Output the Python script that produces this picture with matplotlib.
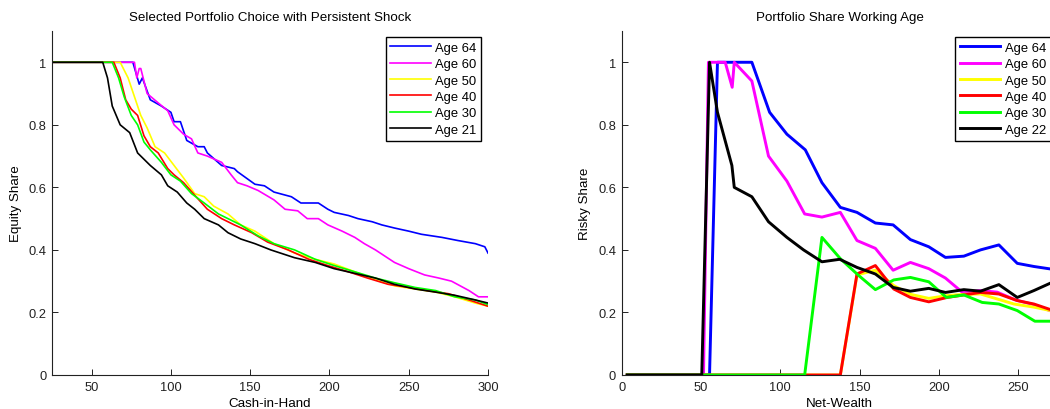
import numpy as np
import matplotlib
matplotlib.use("Agg")
import matplotlib.pyplot as plt

plt.rcParams['font.family'] = ['Liberation Sans', 'DejaVu Sans']

# left panel: equity share vs cash-in-hand
labels_left = ['Age 64', 'Age 60', 'Age 50', 'Age 40', 'Age 30', 'Age 21']
x64 = [25, 76, 80, 82, 87, 94, 100, 102, 106, 110, 117, 121, 123, 132, 140, 142, 153, 159, 165, 176,
       182, 193, 199, 203, 212, 218, 227, 233, 241, 250, 258, 271, 281, 292, 298, 300]
y64 = [1, 1, 0.93, 0.95, 0.88, 0.86, 0.84, 0.81, 0.81, 0.75, 0.73, 0.73, 0.71, 0.67, 0.66, 0.65, 0.61, 0.605,
       0.585, 0.57, 0.55, 0.55, 0.53, 0.52, 0.51, 0.50, 0.49, 0.48, 0.47, 0.46, 0.45, 0.44, 0.43, 0.42, 0.41, 0.39]
x60 = [25, 77, 78.5, 80, 81, 85, 92, 98, 102, 108, 113, 117, 123, 132, 138, 142, 148, 155, 165, 172, 180,
       186, 193, 199, 208, 216, 222, 229, 235, 241, 250, 260, 269, 277, 288, 294, 300]
y60 = [1, 1, 0.95, 0.98, 0.98, 0.90, 0.87, 0.845, 0.80, 0.77, 0.755, 0.71, 0.70, 0.68, 0.64, 0.615, 0.605,
       0.59, 0.56, 0.53, 0.525, 0.50, 0.50, 0.48, 0.46, 0.44, 0.42, 0.40, 0.38, 0.36, 0.34, 0.32, 0.31, 0.30,
       0.27, 0.25, 0.25]
x50 = [25, 68, 73, 77, 81, 85, 90, 96, 102, 108, 115, 121, 127, 136, 144, 153, 165, 178, 191, 203, 216,
       229, 241, 254, 267, 279, 292, 300]
y50 = [1, 1, 0.95, 0.89, 0.83, 0.79, 0.73, 0.71, 0.67, 0.63, 0.58, 0.57, 0.54, 0.515, 0.48, 0.46, 0.42,
       0.39, 0.37, 0.355, 0.33, 0.305, 0.285, 0.275, 0.265, 0.25, 0.23, 0.22]
x40 = [25, 64, 68, 71.5, 75, 79, 83, 87, 92, 98, 102, 108, 115, 123, 132, 140, 151, 161, 174, 187, 199,
       212, 224, 237, 250, 262, 275, 288, 300]
y40 = [1, 1, 0.95, 0.88, 0.85, 0.83, 0.765, 0.73, 0.71, 0.66, 0.64, 0.615, 0.575, 0.53, 0.50, 0.48, 0.455,
       0.425, 0.40, 0.37, 0.35, 0.33, 0.31, 0.29, 0.28, 0.27, 0.26, 0.24, 0.22]
x30 = [25, 63, 67, 70.5, 75, 79, 83, 87, 94, 100, 106, 113, 121, 130, 138, 144, 155, 165, 178, 191, 203,
       216, 229, 241, 254, 267, 279, 292, 300]
y30 = [1, 1, 0.95, 0.89, 0.83, 0.80, 0.745, 0.72, 0.68, 0.64, 0.62, 0.58, 0.55, 0.515, 0.495, 0.48, 0.445,
       0.42, 0.40, 0.37, 0.35, 0.33, 0.31, 0.295, 0.28, 0.27, 0.25, 0.24, 0.225]
x21 = [25, 57, 60, 63, 68, 74, 79, 83, 87, 94, 98, 104, 110, 115, 121, 130, 136, 144, 153, 163, 178, 191,
       203, 216, 229, 241, 254, 267, 279, 292, 300]
y21 = [1, 1, 0.95, 0.86, 0.80, 0.775, 0.71, 0.69, 0.67, 0.64, 0.605, 0.585, 0.55, 0.53, 0.50, 0.48, 0.455,
       0.435, 0.42, 0.40, 0.375, 0.36, 0.34, 0.325, 0.31, 0.29, 0.275, 0.265, 0.255, 0.24, 0.23]

# right panel: risky share vs net wealth
labels_right = ['Age 64', 'Age 60', 'Age 50', 'Age 40', 'Age 30', 'Age 22']
w64 = [3.5, 55.4, 60.4, 82.1, 93.3, 104.2, 115.8, 126.3, 137.9, 148.4, 160, 171.2, 182.1, 193.7, 204.2,
       215.8, 226.3, 237.9, 249.5, 260, 270.5]
s64 = [0, 0, 1, 1, 0.84, 0.77, 0.72, 0.615, 0.536, 0.52, 0.486, 0.48, 0.433, 0.41, 0.376, 0.38, 0.40,
       0.416, 0.357, 0.347, 0.339]
w60 = [3.5, 51.6, 54.7, 65.3, 69.7, 71, 82.1, 92.6, 104.2, 115.4, 126.3, 137.9, 148.4, 160, 171.2, 182.1,
       193.7, 204.2, 214.7, 226.3, 236.8, 248.4, 260, 270.5]
s60 = [0, 0, 1, 1, 0.92, 1, 0.94, 0.70, 0.62, 0.515, 0.505, 0.52, 0.43, 0.405, 0.335, 0.36, 0.34, 0.31,
       0.265, 0.27, 0.265, 0.24, 0.225, 0.205]
w50 = [3.5, 137.9, 148.4, 160, 171.6, 182.1, 193.7, 205.3, 215.8, 226.3, 236.9, 247.4, 260, 270.5]
s50 = [0, 0, 0.32, 0.335, 0.286, 0.258, 0.245, 0.254, 0.258, 0.259, 0.243, 0.227, 0.217, 0.206]
w40 = [3.5, 137.9, 148.4, 160, 171.6, 182.1, 193.7, 205.3, 215.8, 226.3, 237.9, 249.5, 260, 270.5]
s40 = [0, 0, 0.323, 0.35, 0.275, 0.248, 0.234, 0.248, 0.256, 0.264, 0.259, 0.238, 0.227, 0.209]
w30 = [3.5, 115.4, 126.3, 137.9, 149.5, 160, 171.6, 182.1, 193.7, 204.8, 215.8, 227.4, 237.9, 249.5,
       260.6, 270.5]
s30 = [0, 0, 0.44, 0.372, 0.318, 0.273, 0.304, 0.312, 0.298, 0.248, 0.256, 0.232, 0.227, 0.206, 0.172, 0.172]
w22 = [3.5, 50.5, 55.4, 60.4, 69.5, 71, 82.1, 92.6, 104.2, 114.7, 126.3, 137.5, 148.4, 160, 171.2, 182.1,
       193.7, 204.2, 215.8, 226.3, 237.9, 249.5, 260, 270.5]
s22 = [0, 0, 1, 0.84, 0.67, 0.60, 0.57, 0.49, 0.44, 0.40, 0.362, 0.37, 0.344, 0.323, 0.28, 0.268, 0.277,
       0.264, 0.273, 0.268, 0.289, 0.248, 0.27, 0.294]

colors = ['#0000ff', '#ff00ff', '#ffff00', '#ff0000', '#00ff00', '#000000']
yticks = [0, 0.2, 0.4, 0.6, 0.8, 1]
ytick_labels = ['0', '0.2', '0.4', '0.6', '0.8', '1']

fig = plt.figure(figsize=(10.5, 4.1), dpi=100)
W, H = 1050.0, 410.0
ax1 = fig.add_axes([52 / W, 34 / H, 436 / W, 344 / H])
ax2 = fig.add_axes([621.7 / W, 34 / H, 436 / W, 344 / H])


def style_axes(ax):
    for side in ['top', 'right']:
        ax.spines[side].set_visible(False)
    for side in ['left', 'bottom']:
        ax.spines[side].set_linewidth(0.8)
        ax.spines[side].set_color('#222222')
    ax.tick_params(direction='in', length=4, width=0.7, labelsize=9.3, pad=4, colors='#222222')
    ax.set_ylim(0, 1.1)
    ax.set_yticks(yticks)
    ax.set_yticklabels(ytick_labels)


left_series = [(x64, y64), (x60, y60), (x50, y50), (x40, y40), (x30, y30), (x21, y21)]
for (xs, ys), c, lab in zip(left_series, colors, labels_left):
    ax1.plot(xs, ys, color=c, lw=1.2, label=lab)
style_axes(ax1)
ax1.set_xlim(25, 300)
ax1.set_xticks([50, 100, 150, 200, 250, 300])
ax1.set_title('Selected Portfolio Choice with Persistent Shock', fontsize=9.6, pad=8)
ax1.set_xlabel('Cash-in-Hand', fontsize=9.6, labelpad=3)
ax1.set_ylabel('Equity Share', fontsize=9.6, labelpad=5)

right_series = [(w64, s64), (w60, s60), (w50, s50), (w40, s40), (w30, s30), (w22, s22)]
for (xs, ys), c, lab in zip(right_series, colors, labels_right):
    ax2.plot(xs, ys, color=c, lw=2.1, label=lab)
style_axes(ax2)
ax2.set_xlim(0, 275)
ax2.set_xticks([0, 50, 100, 150, 200, 250])
ax2.set_title('Portfolio Share Working Age', fontsize=9.6, pad=8)
ax2.set_xlabel('Net-Wealth', fontsize=9.6, labelpad=3)
ax2.set_ylabel('Risky Share', fontsize=9.6, labelpad=5)

for ax in [ax1, ax2]:
    leg = ax.legend(loc='upper right', bbox_to_anchor=(1 - 7 / 436, 1 - 6 / 344), borderaxespad=0,
                    fontsize=9.4, fancybox=False, framealpha=1, edgecolor='black', labelspacing=0.33,
                    handlelength=3.1, handletextpad=0.35, borderpad=0.35)
    leg.get_frame().set_linewidth(1.0)

fig.savefig('out.png', dpi=100)
